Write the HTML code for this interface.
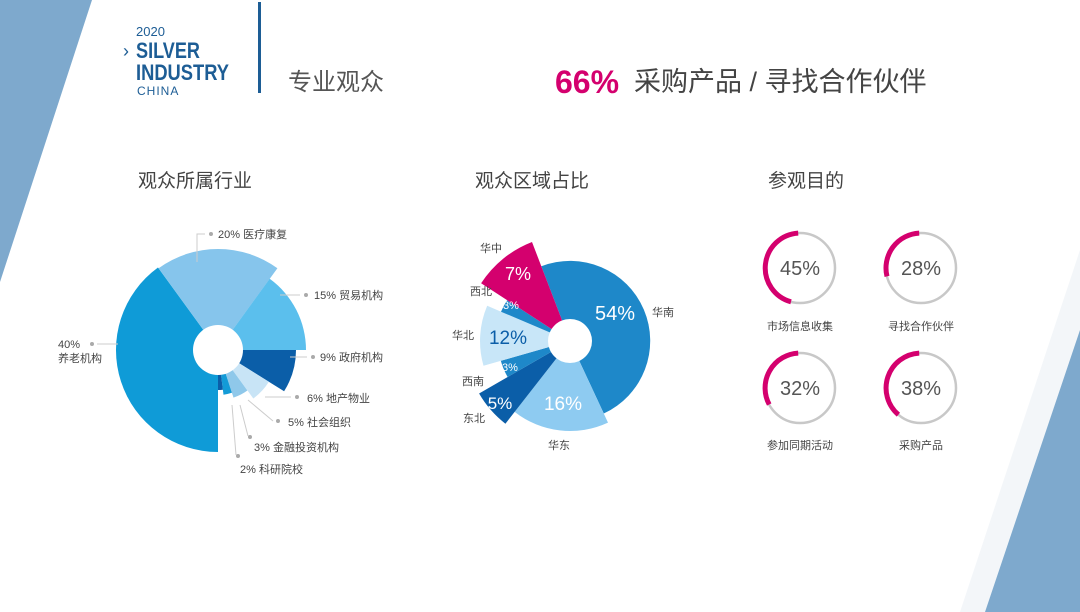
<!DOCTYPE html>
<html><head><meta charset="utf-8"><style>
body{margin:0;background:#fff}
svg{display:block}
text{font-family:"Liberation Sans","Noto Sans CJK SC",sans-serif}
</style></head><body>
<svg width="1080" height="612" viewBox="0 0 1080 612" xmlns="http://www.w3.org/2000/svg">
<polygon points="0,0 92,0 0,282" fill="#7ea9cd"/>
<polygon points="1080,250 1080,330 985,612 960,612" fill="#f3f6f9"/>
<polygon points="1080,330 1080,612 985,612" fill="#7ea9cd"/>
<!-- logo -->
<text x="136" y="36" font-size="13" fill="#1d5d95">2020</text>
<text x="123" y="57" font-size="18" fill="#1d5d95">›</text>
<text x="136" y="58" font-size="22" font-weight="bold" fill="#1d5d95" textLength="64" lengthAdjust="spacingAndGlyphs">SILVER</text>
<text x="136" y="80" font-size="22" font-weight="bold" fill="#1d5d95" textLength="93" lengthAdjust="spacingAndGlyphs">INDUSTRY</text>
<text x="137" y="95" font-size="12" fill="#1d5d95" letter-spacing="1">CHINA</text>
<rect x="258" y="2" width="3" height="91" fill="#1d5d95"/>
<text x="288" y="90" font-size="24" fill="#555">专业观众</text>
<text x="555" y="93" font-size="32" font-weight="bold" fill="#d4006e">66%</text>
<text x="634" y="91" font-size="27" fill="#444">采购产品 / 寻找合作伙伴</text>
<text x="138" y="187" font-size="19" fill="#444">观众所属行业</text>
<text x="475" y="187" font-size="19" fill="#444">观众区域占比</text>
<text x="768" y="187" font-size="19" fill="#444">参观目的</text>

<!-- pie 1 -->
<path d="M218,350 L218,452 A102,102 0 0 1 158.0,267.5 Z" fill="#0f9bd7"/>
<path d="M218,350 L158.6,268.3 A101,101 0 0 1 277.4,268.3 Z" fill="#86c5ec"/>
<path d="M218,350 L269.7,278.8 A88,88 0 0 1 306,350 Z" fill="#5bbfed"/>
<path d="M218,350 L296,350 A78,78 0 0 1 284.1,391.3 Z" fill="#0b5ea8"/>
<path d="M218,350 L268.9,381.8 A60,60 0 0 1 253.3,398.5 Z" fill="#c8e4f6"/>
<path d="M218,350 L247.4,390.5 A50,50 0 0 1 233.5,397.6 Z" fill="#8fc8ea"/>
<path d="M218,350 L231.9,392.8 A45,45 0 0 1 223.5,394.7 Z" fill="#139bd7"/>
<path d="M218,350 L222.9,389.7 A40,40 0 0 1 218,390 Z" fill="#0b5ea8"/>
<circle cx="218" cy="350" r="25" fill="#fff"/>

<!-- pie 2 -->
<path d="M570,341 L541.3,266.3 A80,80 0 0 1 603.8,413.5 Z" fill="#1e88c9"/>
<path d="M570,341 L608.0,422.6 A90,90 0 0 1 514.6,411.9 Z" fill="#8ecbf1"/>
<path d="M570,341 L505.4,423.7 A105,105 0 0 1 479.1,393.5 Z" fill="#0b5ea8"/>
<path d="M570,341 L507.6,377.0 A72,72 0 0 1 500.8,360.8 Z" fill="#1e88c9"/>
<path d="M570,341 L483.5,365.8 A90,90 0 0 1 487.2,305.8 Z" fill="#c8e6f8"/>
<path d="M570,341 L501.0,311.7 A75,75 0 0 1 507.1,300.2 Z" fill="#1e88c9"/>
<path d="M570,341 L481.1,283.3 A106,106 0 0 1 532.0,242.0 Z" fill="#d4006e"/>
<circle cx="570" cy="341" r="22" fill="#fff"/>
<g text-anchor="middle">
<text x="615" y="320" font-size="20" fill="#fff">54%</text>
<text x="563" y="410" font-size="19" fill="#fff">16%</text>
<text x="508" y="344" font-size="19" fill="#0b5ea8">12%</text>
<text x="518" y="280" font-size="18" fill="#fff">7%</text>
<text x="500" y="409" font-size="17" fill="#fff">5%</text>
<text x="511" y="309" font-size="11" fill="#fff">3%</text>
<text x="510" y="371" font-size="11" fill="#fff">3%</text>
</g>

<!-- rings -->
<g fill="none" stroke="#c8c8c8" stroke-width="2.5">
<circle cx="800" cy="268" r="35"/><circle cx="921" cy="268" r="35"/><circle cx="800" cy="388" r="35"/><circle cx="921" cy="388" r="35"/>
</g>
<g fill="none" stroke="#d4006e" stroke-width="5">
<path d="M791.0,301.8 A35,35 0 0 1 798.2,233.1"/>
<path d="M887.0,276.4 A35,35 0 0 1 919.2,233.1"/>
<path d="M769.2,404.5 A35,35 0 0 1 798.2,353.1"/>
<path d="M898.4,414.7 A35,35 0 0 1 919.2,353.1"/>
</g>
<g font-size="20" fill="#555" text-anchor="middle">
<text x="800" y="275">45%</text><text x="921" y="275">28%</text><text x="800" y="395">32%</text><text x="921" y="395">38%</text>
</g>

<!-- left labels -->
<g font-size="11" fill="#444">
<text x="218" y="238">20%  医疗康复</text>
<text x="314" y="299">15% 贸易机构</text>
<text x="320" y="361">9% 政府机构</text>
<text x="307" y="402">6% 地产物业</text>
<text x="288" y="426">5% 社会组织</text>
<text x="254" y="451">3%  金融投资机构</text>
<text x="240" y="473">2%      科研院校</text>
<text x="58" y="348">40%</text>
<text x="58" y="362">养老机构</text>
</g>
<g fill="#aaa"><circle cx="211" cy="234" r="2"/><circle cx="306" cy="295" r="2"/><circle cx="313" cy="357" r="2"/><circle cx="297" cy="397" r="2"/><circle cx="278" cy="421" r="2"/><circle cx="250" cy="437" r="2"/><circle cx="238" cy="456" r="2"/><circle cx="92" cy="344" r="2"/></g>
<g stroke="#ccc" stroke-width="1" fill="none"><path d="M205,234 H197 V262"/><path d="M300,295 H280"/><path d="M307,357 H290"/><path d="M291,397 H265"/><path d="M273,421 L248,400"/><path d="M248,436 L240,405"/><path d="M236,455 L232,405"/><path d="M97,344 H118"/></g>
<!-- middle labels -->
<g font-size="11" fill="#444">
<text x="480" y="252">华中</text><text x="470" y="295">西北</text><text x="452" y="339">华北</text><text x="462" y="385">西南</text><text x="463" y="422">东北</text><text x="548" y="449">华东</text><text x="652" y="316">华南</text>
</g>
<g font-size="11" fill="#444" text-anchor="middle">
<text x="800" y="330">市场信息收集</text><text x="921" y="330">寻找合作伙伴</text><text x="800" y="449">参加同期活动</text><text x="921" y="449">采购产品</text>
</g>
</svg>
</body></html>
